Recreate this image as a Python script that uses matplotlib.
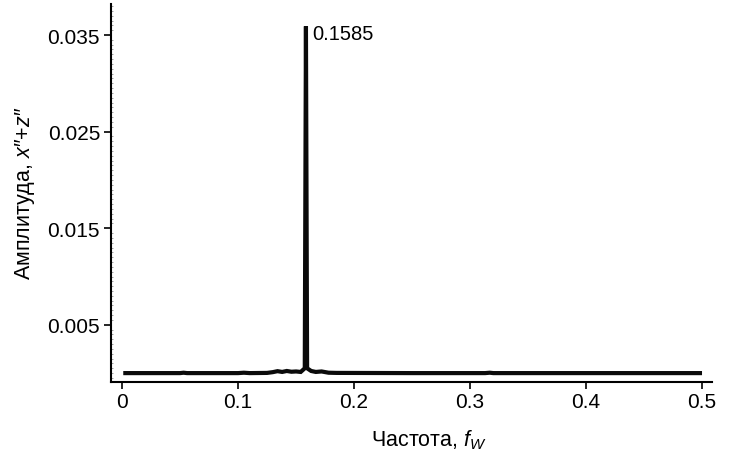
import matplotlib
matplotlib.use("Agg")
import matplotlib.pyplot as plt
from matplotlib.ticker import MultipleLocator

plt.rcParams['font.family'] = ['Liberation Sans', 'DejaVu Sans']
plt.rcParams['mathtext.fontset'] = 'custom'
plt.rcParams['mathtext.rm'] = 'Liberation Sans'
plt.rcParams['mathtext.it'] = 'Liberation Sans:italic'

# Amplitude spectrum of x''+z''
freq = [0.001, 0.050, 0.053, 0.056, 0.100, 0.105, 0.110, 0.125, 0.130,
        0.134, 0.138, 0.142, 0.146, 0.150, 0.154, 0.1575, 0.1585, 0.1595,
        0.163, 0.167, 0.172, 0.178, 0.185, 0.250, 0.313, 0.317, 0.320,
        0.400, 0.500]
amp = [0.00000, 0.00000, 0.00004, 0.00000, 0.00000, 0.00004, 0.00000,
       0.00002, 0.00010, 0.00020, 0.00012, 0.00022, 0.00014, 0.00017,
       0.00012, 0.00050, 0.03590, 0.00050, 0.00022, 0.00012, 0.00017,
       0.00004, 0.00002, 0.00000, 0.00000, 0.00004, 0.00000, 0.00000,
       0.00000]

peak_freq = 0.1585
peak_amp = 0.0359

x_ticks = [0.0, 0.1, 0.2, 0.3, 0.4, 0.5]
x_tick_labels = ["0", "0.1", "0.2", "0.3", "0.4", "0.5"]
y_ticks = [0.005, 0.015, 0.025, 0.035]
y_tick_labels = ["0.005", "0.015", "0.025", "0.035"]

fig = plt.figure(figsize=(7.32, 4.52), dpi=100)
ax = fig.add_axes([110.5 / 732, 1 - 382.6 / 452, 601.5 / 732, 377.6 / 452])

ax.plot(freq, amp, color='#0a0a0a', lw=3.0, solid_capstyle='butt',
        solid_joinstyle='miter')

ax.text(peak_freq + 0.0055, peak_amp + 0.0002, "{0:.4f}".format(peak_freq),
        ha='left', va='top', fontsize=14.5)

ax.set_xlim(-0.0100, 0.5086)
ax.set_ylim(-0.00088, 0.03821)

ax.set_xticks(x_ticks)
ax.set_xticklabels(x_tick_labels)
ax.set_yticks(y_ticks)
ax.set_yticklabels(y_tick_labels)
ax.yaxis.set_minor_locator(MultipleLocator(0.0005))

ax.tick_params(axis='both', which='major', direction='out', length=5,
               width=1.2, labelsize=15, pad=2.5)
ax.tick_params(axis='y', which='minor', direction='in', length=1.2,
               width=0.4, color='#555555')

for side in ['top', 'right']:
    ax.spines[side].set_visible(False)
for side in ['left', 'bottom']:
    ax.spines[side].set_linewidth(1.5)

ax.set_xlabel(r"Частота, $f_W$", fontsize=15.5)
ax.xaxis.set_label_coords(0.53, -0.12)
ax.set_ylabel(r"Амплитуда, $x″$+$z″$", fontsize=15.5)
ax.yaxis.set_label_coords(-0.122, 0.5)

fig.savefig("out.png", dpi=100)
plt.close(fig)
